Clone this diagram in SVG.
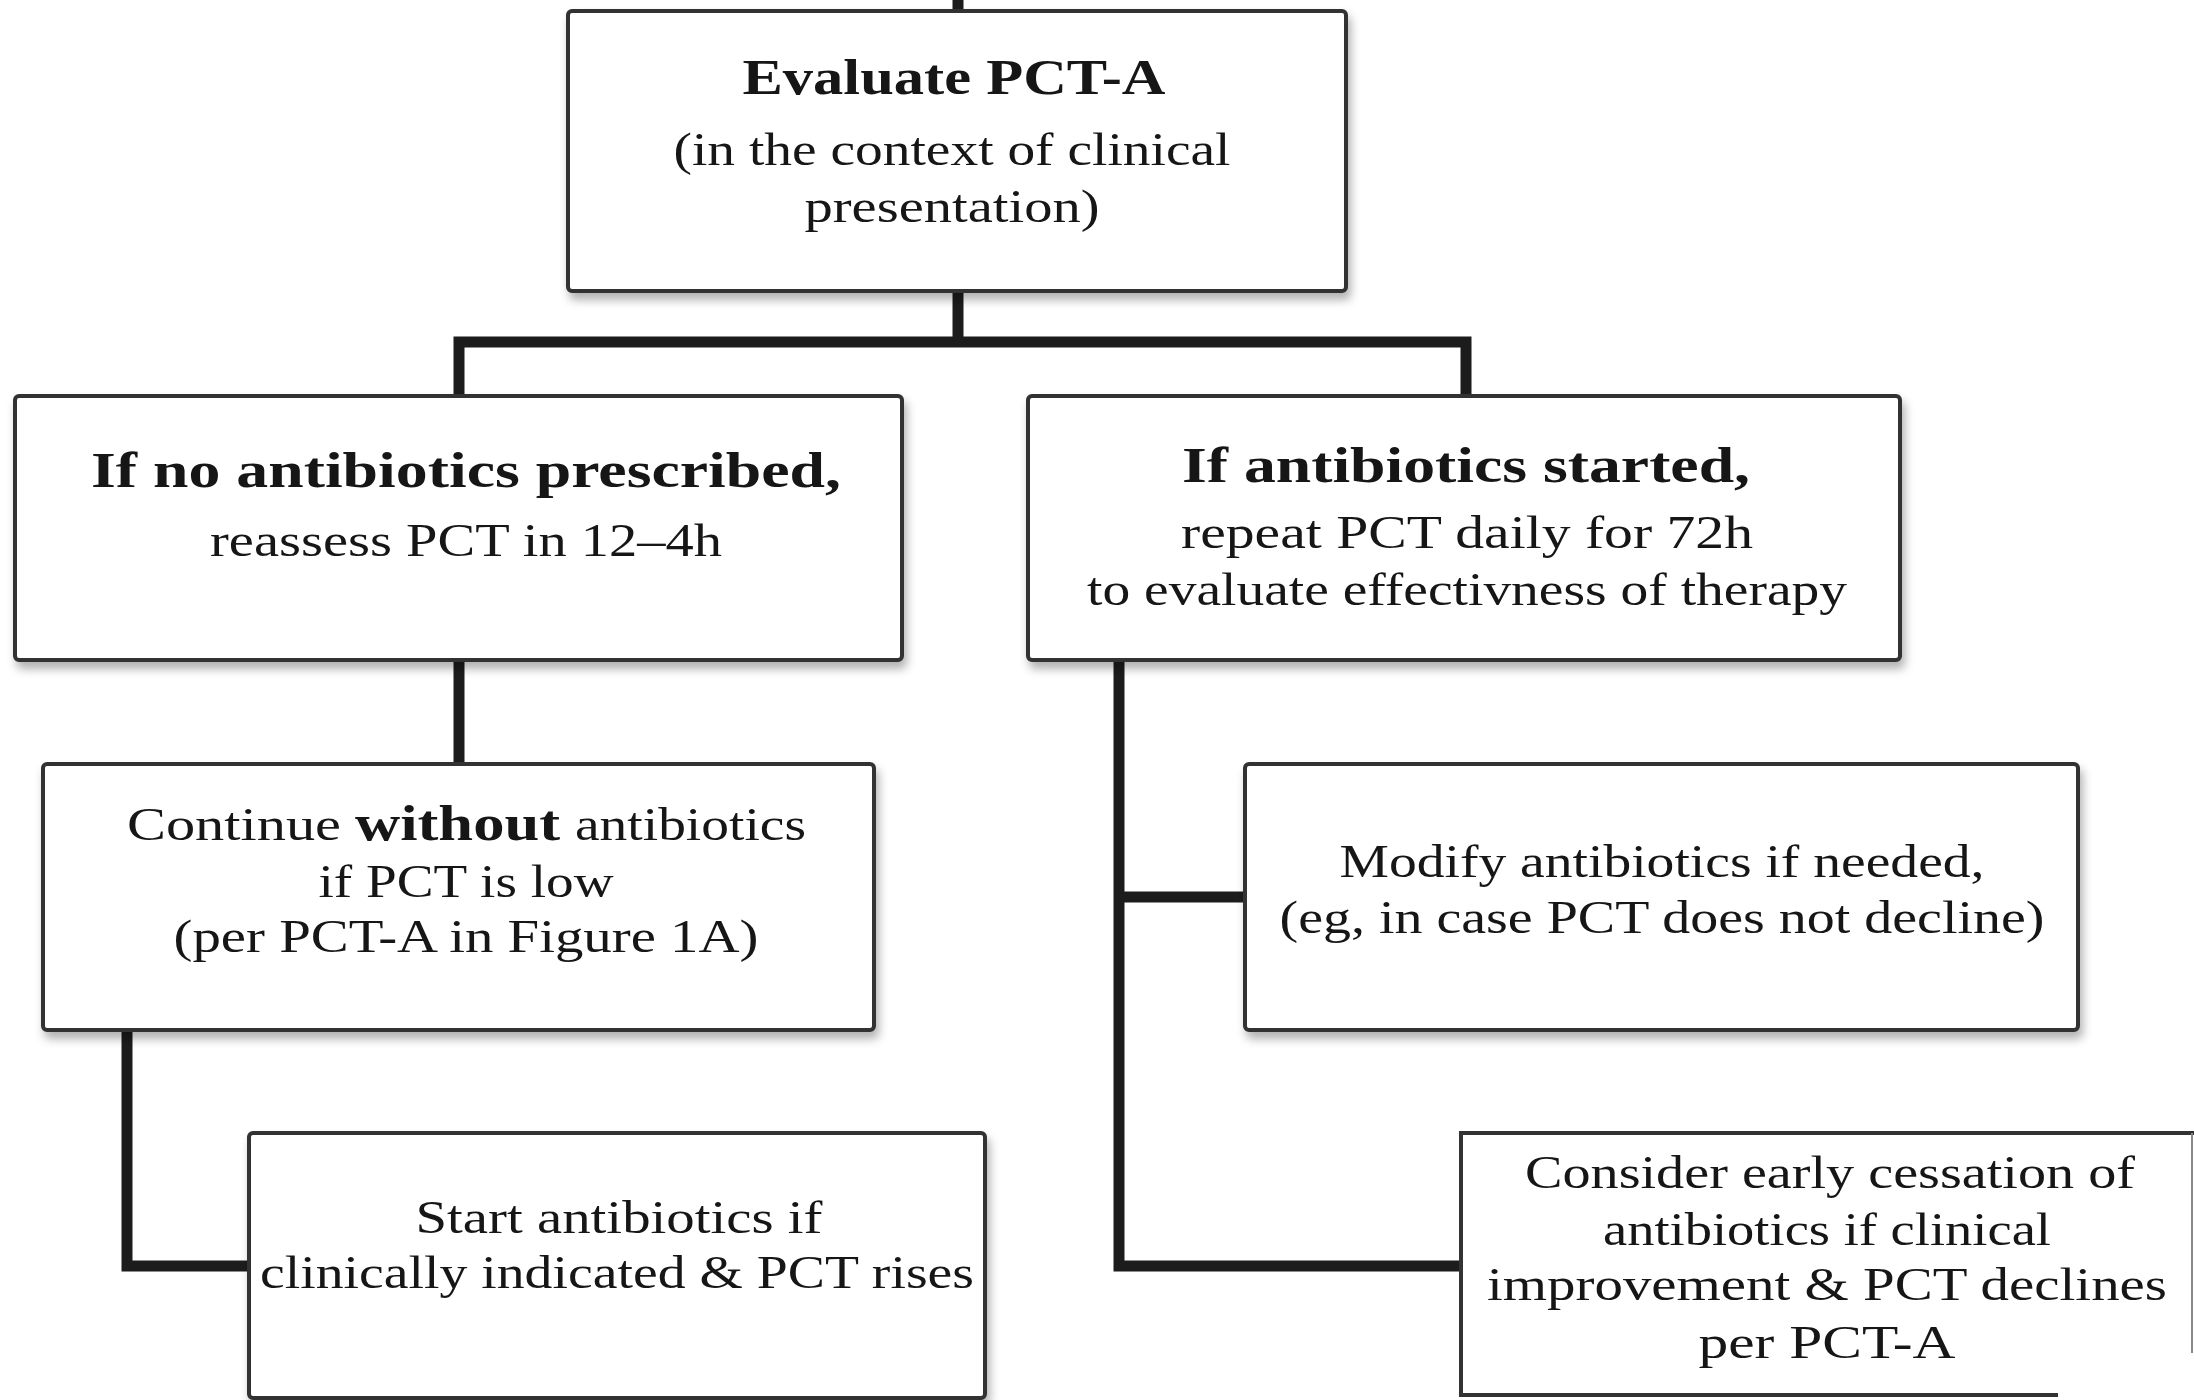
<svg xmlns="http://www.w3.org/2000/svg" width="2194" height="1400" viewBox="0 0 2194 1400">
<defs>
<filter id="sh" x="-5%" y="-10%" width="112%" height="125%">
<feDropShadow dx="3" dy="7" stdDeviation="5" flood-color="#000" flood-opacity="0.3"/>
</filter>
</defs>
<style>
.box{fill:#fff;stroke:#333;stroke-width:4}
.edge{fill:none;stroke:#333;stroke-width:4}
.t{font-family:"Liberation Serif","Times New Roman",serif;font-size:47px;fill:#161616;text-anchor:middle}
.b{font-weight:bold;font-size:50px}
.s{text-anchor:start}
.conn{fill:none;stroke:#1c1c1c;stroke-width:11;stroke-linejoin:miter;stroke-linecap:butt}
</style>
<rect width="2194" height="1400" fill="#fff"/>
<g id="connectors">
<path class="conn" d="M958 0 V12"/>
<path class="conn" d="M958 291 V342"/>
<path class="conn" d="M459 396 V342 H1466 V396"/>
<path class="conn" d="M459 660 V764"/>
<path class="conn" d="M127 1030 V1266 H249"/>
<path class="conn" d="M1119 660 V1266 H1461"/>
<path class="conn" d="M1119 897 H1245"/>
</g>
<g id="evaluate">
<rect class="box" x="568" y="11" width="778" height="280" rx="4" filter="url(#sh)"/>
<text class="t b" x="954" y="94" textLength="423" lengthAdjust="spacingAndGlyphs">Evaluate PCT-A</text>
<text class="t" x="952" y="165" textLength="557" lengthAdjust="spacingAndGlyphs">(in the context of clinical</text>
<text class="t" x="952" y="222" textLength="295" lengthAdjust="spacingAndGlyphs">presentation)</text>
</g>
<g id="no-antibiotics">
<rect class="box" x="15" y="396" width="887" height="264" rx="4" filter="url(#sh)"/>
<text class="t b" x="466" y="487" textLength="750" lengthAdjust="spacingAndGlyphs">If no antibiotics prescribed,</text>
<text class="t" x="466" y="556" textLength="512" lengthAdjust="spacingAndGlyphs">reassess PCT in 12–4h</text>
</g>
<g id="antibiotics-started">
<rect class="box" x="1028" y="396" width="872" height="264" rx="4" filter="url(#sh)"/>
<text class="t b" x="1466" y="482" textLength="568" lengthAdjust="spacingAndGlyphs">If antibiotics started,</text>
<text class="t" x="1467" y="548" textLength="572" lengthAdjust="spacingAndGlyphs">repeat PCT daily for 72h</text>
<text class="t" x="1467" y="605" textLength="760" lengthAdjust="spacingAndGlyphs">to evaluate effectivness of therapy</text>
</g>
<g id="continue-without">
<rect class="box" x="43" y="764" width="831" height="266" rx="4" filter="url(#sh)"/>
<text class="t s" x="127" y="840" textLength="214" lengthAdjust="spacingAndGlyphs">Continue</text>
<text class="t b s" x="355" y="840" textLength="205" lengthAdjust="spacingAndGlyphs">without</text>
<text class="t s" x="575" y="840" textLength="231" lengthAdjust="spacingAndGlyphs">antibiotics</text>
<text class="t" x="466" y="897" textLength="295" lengthAdjust="spacingAndGlyphs">if PCT is low</text>
<text class="t" x="466" y="952" textLength="585" lengthAdjust="spacingAndGlyphs">(per PCT-A in Figure 1A)</text>
</g>
<g id="modify">
<rect class="box" x="1245" y="764" width="833" height="266" rx="4" filter="url(#sh)"/>
<text class="t" x="1662" y="877" textLength="645" lengthAdjust="spacingAndGlyphs">Modify antibiotics if needed,</text>
<text class="t" x="1662" y="933" textLength="765" lengthAdjust="spacingAndGlyphs">(eg, in case PCT does not decline)</text>
</g>
<g id="start-antibiotics">
<rect class="box" x="249" y="1133" width="736" height="265" rx="4" filter="url(#sh)"/>
<text class="t" x="619" y="1233" textLength="407" lengthAdjust="spacingAndGlyphs">Start antibiotics if</text>
<text class="t" x="617" y="1288" textLength="714" lengthAdjust="spacingAndGlyphs">clinically indicated &amp; PCT rises</text>
</g>
<g id="early-cessation">
<rect x="1461" y="1133" width="733" height="262" fill="#fff"/>
<path class="edge" d="M2194 1133 H1461 V1395 H2058"/>
<path d="M2192 1133 V1353" fill="none" stroke="#888" stroke-width="2"/>
<text class="t" x="1830" y="1188" textLength="610" lengthAdjust="spacingAndGlyphs">Consider early cessation of</text>
<text class="t" x="1827" y="1245" textLength="448" lengthAdjust="spacingAndGlyphs">antibiotics if clinical</text>
<text class="t" x="1827" y="1300" textLength="680" lengthAdjust="spacingAndGlyphs">improvement &amp; PCT declines</text>
<text class="t" x="1827" y="1358" textLength="257" lengthAdjust="spacingAndGlyphs">per PCT-A</text>
</g>
</svg>
